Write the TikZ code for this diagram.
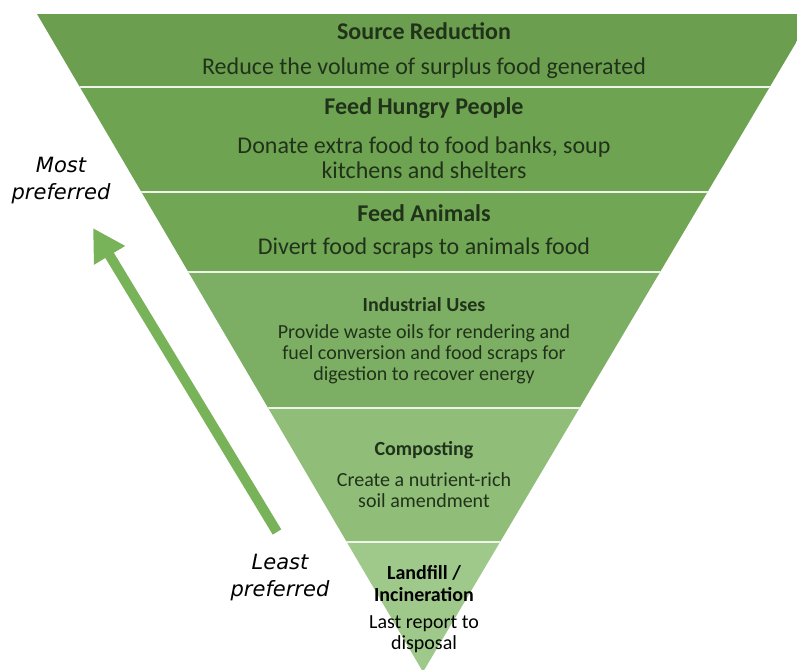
\documentclass[tikz,border=0pt]{standalone}
\usepackage{fontspec}
\setmainfont{Carlito}
\newfontfamily\labelfont{DejaVu Sans}
\usetikzlibrary{arrows.meta}
\definecolor{bandA}{HTML}{6B9F4F}
\definecolor{bandB}{HTML}{6EA352}
\definecolor{bandC}{HTML}{71A655}
\definecolor{bandD}{HTML}{7CAF63}
\definecolor{bandE}{HTML}{90BE79}
\definecolor{bandF}{HTML}{9FC98A}
\definecolor{arrowgreen}{HTML}{78B35A}
\definecolor{txtdark}{HTML}{21321A}
\definecolor{sepline}{HTML}{EEF4EA}
\begin{document}
\begin{tikzpicture}[x=1pt,y=-1pt,
  bigtext/.style={text=txtdark,align=center,inner sep=0pt,font=\fontsize{24}{25}\selectfont},
  bighead/.style={bigtext,font=\fontsize{24}{25}\selectfont\bfseries},
  smalltext/.style={text=txtdark,align=center,inner sep=0pt,font=\fontsize{20}{21}\selectfont},
  smallhead/.style={smalltext,font=\fontsize{20}{22}\selectfont\bfseries},
  sidelabel/.style={text=black,align=center,inner sep=0pt,font=\labelfont\itshape\fontsize{21}{27}\selectfont},
  sepstyle/.style={draw=sepline,line width=2pt},
  prefarrow/.style={draw=arrowgreen,line width=10pt,-{Triangle[length=32pt,width=34pt]}}
]
\useasboundingbox (0,0) rectangle (797,669);
\begin{scope}
  \clip (0,0) rectangle (797,669);
  \clip (37,14) -- (813,14) -- (423,672) -- cycle;
  \fill[bandA] (0,14) rectangle (820,87);
  \fill[bandB] (0,87) rectangle (820,192);
  \fill[bandC] (0,192) rectangle (820,272);
  \fill[bandD] (0,272) rectangle (820,408);
  \fill[bandE] (0,408) rectangle (820,542);
  \fill[bandF] (0,542) rectangle (820,680);
  \draw[sepstyle] (0,87) -- (820,87);
  \draw[sepstyle] (0,192) -- (820,192);
  \draw[sepstyle] (0,272) -- (820,272);
  \draw[sepstyle] (0,408) -- (820,408);
  \draw[sepstyle] (0,542) -- (820,542);
\end{scope}

\node[bighead] (h1) at (424,31) {Source Reduction};
\node[bigtext] (d1) at (424,68) {Reduce the volume of surplus food generated};
\node[bighead] (h2) at (424,108) {Feed Hungry People};
\node[bigtext] (d2) at (424,158) {Donate extra food to food banks, soup\\kitchens and shelters};
\node[bighead] (h3) at (424,213) {Feed Animals};
\node[bigtext] (d3) at (424,248) {Divert food scraps to animals food};
\node[smallhead] (h4) at (424,305) {Industrial Uses};
\node[smalltext] (d4) at (424,354) {Provide waste oils for rendering and\\fuel conversion and food scraps for\\digestion to recover energy};
\node[smallhead] (h5) at (424,450) {Composting};
\node[smalltext] (d5) at (424,490) {Create a nutrient-rich\\soil amendment};
\node[smallhead,text=black] (h6) at (424,584) {Landfill /\\Incineration};
\node[smalltext,text=black] (d6) at (424,634) {Last report to\\disposal};

\node[sidelabel] (most) at (61,181) {Most\\preferred};
\node[sidelabel] (least) at (280,578) {Least\\preferred};

\coordinate (arrowtail) at (277,532);
\coordinate (arrowtip) at (93,228);
\draw[prefarrow] (arrowtail) -- (arrowtip);
\end{tikzpicture}
\end{document}
